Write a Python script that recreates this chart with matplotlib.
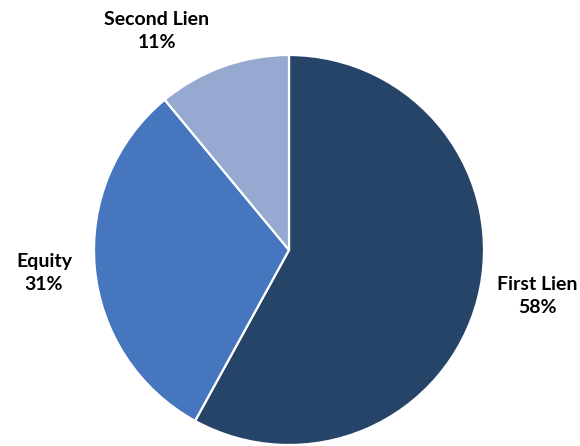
import matplotlib
matplotlib.use('Agg')
import matplotlib.pyplot as plt

# Daten
categories = ["First Lien", "Equity", "Second Lien"]
shares = [58, 31, 11]
colors = ["#264468", "#4677BE", "#95A9D1"]

fig = plt.figure(figsize=(5.8, 4.46), dpi=100)
ax = fig.add_axes([0, 0, 1, 1])

wedges, _ = ax.pie(shares, colors=colors, startangle=90, counterclock=False,
                   center=(289, 196), radius=195,
                   wedgeprops=dict(edgecolor='white', linewidth=1.6))
ax.set_xlim(0, 580)
ax.set_ylim(0, 446)
ax.set_aspect('equal')
ax.axis('off')

# Beschriftungen (Position in Pixeln)
label_pos = [(537, 150), (44, 173), (157, 415)]
for name, val, (x, y) in zip(categories, shares, label_pos):
    ax.text(x, y, f"{name}\n{val}%", ha='center', va='center',
            fontsize=14, fontweight='bold', family='Lato',
            color='black', linespacing=1.4)

fig.savefig('out.png', dpi=100)
